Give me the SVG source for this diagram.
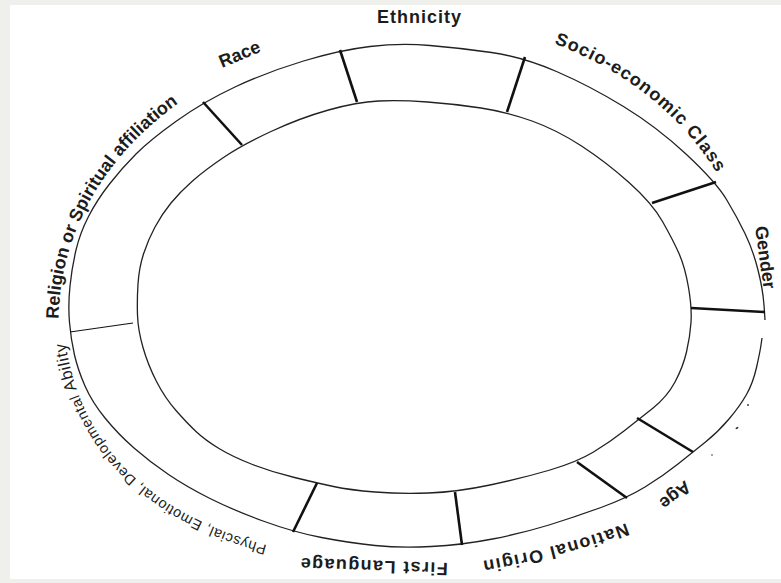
<svg xmlns="http://www.w3.org/2000/svg" width="781" height="583" viewBox="0 0 781 583">
  <style>
    .ring { fill: none; stroke: #222; stroke-width: 1.3; stroke-linejoin: round; }
    .divider { stroke: #111; stroke-width: 2.6; stroke-linecap: butt; }
    .divider.thin { stroke-width: 1.2; }
    .lbl { font-family: "Liberation Sans", Arial, sans-serif; font-weight: bold; font-size: 18px; fill: #1c1c1c; }
    .small { font-weight: normal; font-size: 14.5px; }
    .speck { fill: #333; }
  </style>
  <defs>
    <path id="p-socio" d="M 540,38.7 A 337 281 0 0 1 745,239.1"/>
    <path id="p-national" d="M 626,523 Q 558,549 470,563"/>
    <path id="p-ability" d="M 270,546 C 170,520 77,460 64,330"/>
    <path id="p-religion" d="M 59,336 C 54,238 104,146 205,86"/>
  </defs>

  <!-- page: grey margin with a white sheet -->
  <rect x="0" y="0" width="781" height="583" fill="#efefec"/>
  <rect x="10" y="5" width="771" height="574" fill="#ffffff"/>

  <!-- ring -->
  <g id="ring">
    <path class="ring" d="M 762,338 L 761,345 Q 760,352 756.5,367.5 Q 753,383 746.5,394.5 Q 740,406 729,419 Q 718,432 705.5,442 Q 693,452 678,464 Q 663,476 645,487 Q 627,498 601,507.5 Q 575,517 549,525 Q 523,533 492.5,539 Q 462,545 431,546.5 Q 400,548 375,545.5 Q 350,543 321.5,537.5 Q 293,532 263,521 Q 233,510 210,498.5 Q 187,487 168.5,474.5 Q 150,462 134,448 Q 118,434 105,418 Q 92,402 85,386 Q 78,370 74.5,355 Q 71,340 69.5,322.5 Q 68,305 70,286 Q 72,267 76,250 Q 80,233 88.5,216.5 Q 97,200 109.5,184 Q 122,168 136,154 Q 150,140 176.5,121 Q 203,102 235,87 Q 267,72 303.5,61 Q 340,50 370,46.5 Q 400,43 430,45.5 Q 460,48 491.5,52.5 Q 523,57 556.5,71.5 Q 590,86 623.5,106.5 Q 657,127 686.5,154.5 Q 716,182 726.5,199.5 Q 737,217 745,233.5 Q 753,250 758,270 Q 763,290 764,305 L 765,320"/>
    <path class="ring" d="M 378.5,101 Q 400,100 427.5,102 Q 455,104 481,108 Q 507,112 532,121 Q 557,130 581.5,146 Q 606,162 629,182.5 Q 652,203 662.5,221.5 Q 673,240 679,253.5 Q 685,267 688.5,287.5 Q 692,308 691,322.5 Q 690,337 686.5,352 Q 683,367 675,382 Q 667,397 652.5,408.5 Q 638,420 624,431 Q 610,442 593.5,452 Q 577,462 550,470 Q 523,478 490,485 Q 457,492 428.5,493 Q 400,494 375,492 Q 350,490 333.5,486.5 Q 317,483 294.5,477.5 Q 272,472 252.5,464.5 Q 233,457 219,448.5 Q 205,440 196,431.5 Q 187,423 176,410.5 Q 165,398 156.5,381.5 Q 148,365 143,347.5 Q 138,330 137.5,315 Q 137,300 138,284 Q 139,268 143.5,254 Q 148,240 155,227 Q 162,214 171,203 Q 180,192 192.5,181 Q 205,170 223.5,157.5 Q 242,145 271,131.5 Q 300,118 328.5,110 Q 357,102 378.5,101 Z"/>
  </g>

  <!-- radial dividers between the segments -->
  <g id="dividers">
    <line class="divider" x1="203" y1="102" x2="242" y2="145"/>
    <line class="divider" x1="340" y1="50" x2="357" y2="102"/>
    <line class="divider" x1="525" y1="57" x2="507" y2="112"/>
    <line class="divider" x1="716" y1="182" x2="652" y2="203"/>
    <line class="divider" x1="765" y1="312" x2="691" y2="308"/>
    <line class="divider" x1="693" y1="452" x2="637" y2="418"/>
    <line class="divider" x1="627" y1="498" x2="577" y2="462"/>
    <line class="divider" x1="462" y1="545" x2="455" y2="492"/>
    <line class="divider" x1="293" y1="532" x2="317" y2="483"/>
    <line class="divider thin" x1="70" y1="332" x2="133" y2="323"/>
  </g>

  <!-- segment labels, running clockwise round the ring -->
  <g id="seg-ethnicity">
    <text class="lbl" x="377" y="23" font-size="18.5" letter-spacing="1">Ethnicity</text>
  </g>
  <g id="seg-socio">
    <text class="lbl" letter-spacing="1"><textPath href="#p-socio" startOffset="15">Socio-economic Class</textPath></text>
  </g>
  <g id="seg-gender">
    <text class="lbl" x="755" y="227" font-size="16.5" transform="rotate(82 755 227)">Gender</text>
  </g>
  <g id="seg-age">
    <text class="lbl" x="685" y="480" font-size="17" transform="rotate(142 685 480)">Age</text>
  </g>
  <g id="seg-national">
    <text class="lbl" letter-spacing="1.4"><textPath href="#p-national">National Origin</textPath></text>
  </g>
  <g id="seg-language">
    <text class="lbl" x="448" y="563" letter-spacing="1.4" transform="rotate(182 448 563)">First Language</text>
  </g>
  <g id="seg-ability">
    <text class="lbl small" letter-spacing="0.6"><textPath href="#p-ability" startOffset="3">Physcial, Emotional, Developmental <tspan font-size="16.5">Ability</tspan></textPath></text>
  </g>
  <g id="seg-religion">
    <text class="lbl" font-size="17"><textPath href="#p-religion" startOffset="17">Religion or Spiritual affiliation</textPath></text>
  </g>
  <g id="seg-race">
    <text class="lbl" x="222" y="68" transform="rotate(-22.7 222 68)">Race</text>
  </g>

  <!-- stray marks beside the lower right arc -->
  <g id="specks">
    <circle class="speck" cx="748" cy="405" r="0.9"/>
    <ellipse class="speck" cx="737" cy="428" rx="1.6" ry="0.9" transform="rotate(-30 737 428)"/>
    <circle class="speck" cx="712" cy="455" r="0.8"/>
  </g>
</svg>
